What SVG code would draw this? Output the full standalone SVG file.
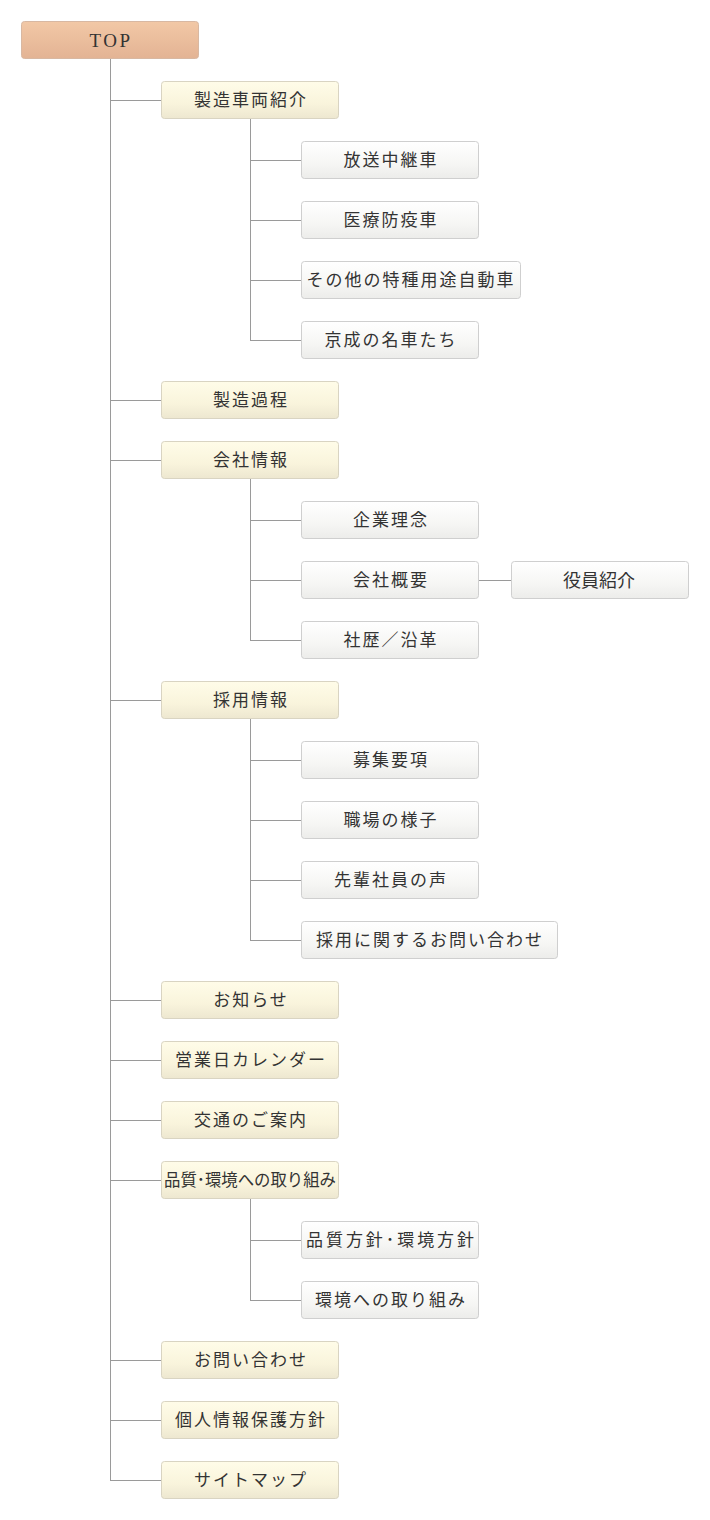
<svg xmlns="http://www.w3.org/2000/svg" width="710" height="1520" viewBox="0 0 710 1520">
<defs>
<linearGradient id="gTop" x1="0" y1="0" x2="0" y2="1"><stop offset="0" stop-color="#f2c8a6"/><stop offset="1" stop-color="#e3b394"/></linearGradient>
<linearGradient id="g1" x1="0" y1="0" x2="0" y2="1"><stop offset="0" stop-color="#fffce8"/><stop offset="0.6" stop-color="#f9f4dc"/><stop offset="1" stop-color="#ede7d0"/></linearGradient>
<linearGradient id="g2" x1="0" y1="0" x2="0" y2="1"><stop offset="0" stop-color="#ffffff"/><stop offset="0.6" stop-color="#f6f6f4"/><stop offset="1" stop-color="#ececea"/></linearGradient>
</defs>
<style>
rect{stroke-width:1}
.top{fill:url(#gTop);stroke:#d8b8a2}
.l1{fill:url(#g1);stroke:#d9d4c2}
.l2{fill:url(#g2);stroke:#cfcfcf}
text{font-family:"Noto Sans CJK JP","Noto Sans CJK SC",sans-serif;font-size:17px;fill:#333333;text-anchor:middle;letter-spacing:2px}
.tt{font-family:"Liberation Serif",serif;font-size:19px;letter-spacing:2.5px}
.c line{stroke:#9a9a9a;stroke-width:1;fill:none}
</style>
<rect width="710" height="1520" fill="#ffffff"/>
<g class="c" id="connectors">
<line x1="110.5" y1="59" x2="110.5" y2="1480.5"/>
<line x1="110" y1="100.5" x2="161" y2="100.5"/>
<line x1="110" y1="400.5" x2="161" y2="400.5"/>
<line x1="110" y1="460.5" x2="161" y2="460.5"/>
<line x1="110" y1="700.5" x2="161" y2="700.5"/>
<line x1="110" y1="1000.5" x2="161" y2="1000.5"/>
<line x1="110" y1="1060.5" x2="161" y2="1060.5"/>
<line x1="110" y1="1120.5" x2="161" y2="1120.5"/>
<line x1="110" y1="1180.5" x2="161" y2="1180.5"/>
<line x1="110" y1="1360.5" x2="161" y2="1360.5"/>
<line x1="110" y1="1420.5" x2="161" y2="1420.5"/>
<line x1="110" y1="1480.5" x2="161" y2="1480.5"/>
<line x1="250.5" y1="119" x2="250.5" y2="340.5"/>
<line x1="250" y1="160.5" x2="301" y2="160.5"/>
<line x1="250" y1="220.5" x2="301" y2="220.5"/>
<line x1="250" y1="280.5" x2="301" y2="280.5"/>
<line x1="250" y1="340.5" x2="301" y2="340.5"/>
<line x1="250.5" y1="479" x2="250.5" y2="640.5"/>
<line x1="250" y1="520.5" x2="301" y2="520.5"/>
<line x1="250" y1="580.5" x2="301" y2="580.5"/>
<line x1="250" y1="640.5" x2="301" y2="640.5"/>
<line x1="479" y1="580.5" x2="511" y2="580.5"/>
<line x1="250.5" y1="719" x2="250.5" y2="940.5"/>
<line x1="250" y1="760.5" x2="301" y2="760.5"/>
<line x1="250" y1="820.5" x2="301" y2="820.5"/>
<line x1="250" y1="880.5" x2="301" y2="880.5"/>
<line x1="250" y1="940.5" x2="301" y2="940.5"/>
<line x1="250.5" y1="1199" x2="250.5" y2="1300.5"/>
<line x1="250" y1="1240.5" x2="301" y2="1240.5"/>
<line x1="250" y1="1300.5" x2="301" y2="1300.5"/>
</g>
<g id="n-top"><rect class="top" x="21.5" y="21.5" width="177" height="37" rx="3"/><text class="tt" x="111" y="46.5">TOP</text></g>
<g id="n-seizousharyo"><rect class="l1" x="161.5" y="81.5" width="177" height="37" rx="3"/><text x="251" y="106">製造車両紹介</text></g>
<g id="n-hoso"><rect class="l2" x="301.5" y="141.5" width="177" height="37" rx="3"/><text x="391" y="166">放送中継車</text></g>
<g id="n-iryo"><rect class="l2" x="301.5" y="201.5" width="177" height="37" rx="3"/><text x="391" y="226">医療防疫車</text></g>
<g id="n-sonota"><rect class="l2" x="301.5" y="261.5" width="219" height="37" rx="3"/><text x="411" y="286">その他の特種用途自動車</text></g>
<g id="n-keisei"><rect class="l2" x="301.5" y="321.5" width="177" height="37" rx="3"/><text x="391" y="346">京成の名車たち</text></g>
<g id="n-seizoukatei"><rect class="l1" x="161.5" y="381.5" width="177" height="37" rx="3"/><text x="251" y="406">製造過程</text></g>
<g id="n-kaisha"><rect class="l1" x="161.5" y="441.5" width="177" height="37" rx="3"/><text x="251" y="466">会社情報</text></g>
<g id="n-rinen"><rect class="l2" x="301.5" y="501.5" width="177" height="37" rx="3"/><text x="391" y="526">企業理念</text></g>
<g id="n-gaiyo"><rect class="l2" x="301.5" y="561.5" width="177" height="37" rx="3"/><text x="391" y="586">会社概要</text></g>
<g id="n-yakuin"><rect class="l2" x="511.5" y="561.5" width="177" height="37" rx="3"/><text x="599" y="587" style="letter-spacing:0;font-size:18px">役員紹介</text></g>
<g id="n-enkaku"><rect class="l2" x="301.5" y="621.5" width="177" height="37" rx="3"/><text x="391" y="646">社歴／沿革</text></g>
<g id="n-saiyo"><rect class="l1" x="161.5" y="681.5" width="177" height="37" rx="3"/><text x="251" y="706">採用情報</text></g>
<g id="n-boshu"><rect class="l2" x="301.5" y="741.5" width="177" height="37" rx="3"/><text x="391" y="766">募集要項</text></g>
<g id="n-shokuba"><rect class="l2" x="301.5" y="801.5" width="177" height="37" rx="3"/><text x="391" y="826">職場の様子</text></g>
<g id="n-senpai"><rect class="l2" x="301.5" y="861.5" width="177" height="37" rx="3"/><text x="391" y="886">先輩社員の声</text></g>
<g id="n-saiyotoiawase"><rect class="l2" x="301.5" y="921.5" width="256" height="37" rx="3"/><text x="430" y="946">採用に関するお問い合わせ</text></g>
<g id="n-oshirase"><rect class="l1" x="161.5" y="981.5" width="177" height="37" rx="3"/><text x="251" y="1006">お知らせ</text></g>
<g id="n-calendar"><rect class="l1" x="161.5" y="1041.5" width="177" height="37" rx="3"/><text x="251" y="1066">営業日カレンダー</text></g>
<g id="n-kotsu"><rect class="l1" x="161.5" y="1101.5" width="177" height="37" rx="3"/><text x="251" y="1126">交通のご案内</text></g>
<g id="n-hinshitsu"><rect class="l1" x="161.5" y="1161.5" width="177" height="37" rx="3"/><text x="250" y="1186" style="letter-spacing:0" textLength="172" lengthAdjust="spacingAndGlyphs">品質･環境への取り組み</text></g>
<g id="n-hoshin"><rect class="l2" x="301.5" y="1221.5" width="177" height="37" rx="3"/><text x="390" y="1246" style="letter-spacing:0" textLength="168" lengthAdjust="spacing">品質方針･環境方針</text></g>
<g id="n-kankyo"><rect class="l2" x="301.5" y="1281.5" width="177" height="37" rx="3"/><text x="391" y="1306">環境への取り組み</text></g>
<g id="n-toiawase"><rect class="l1" x="161.5" y="1341.5" width="177" height="37" rx="3"/><text x="251" y="1366">お問い合わせ</text></g>
<g id="n-kojin"><rect class="l1" x="161.5" y="1401.5" width="177" height="37" rx="3"/><text x="251" y="1426">個人情報保護方針</text></g>
<g id="n-sitemap"><rect class="l1" x="161.5" y="1461.5" width="177" height="37" rx="3"/><text x="251" y="1486">サイトマップ</text></g>
</svg>
